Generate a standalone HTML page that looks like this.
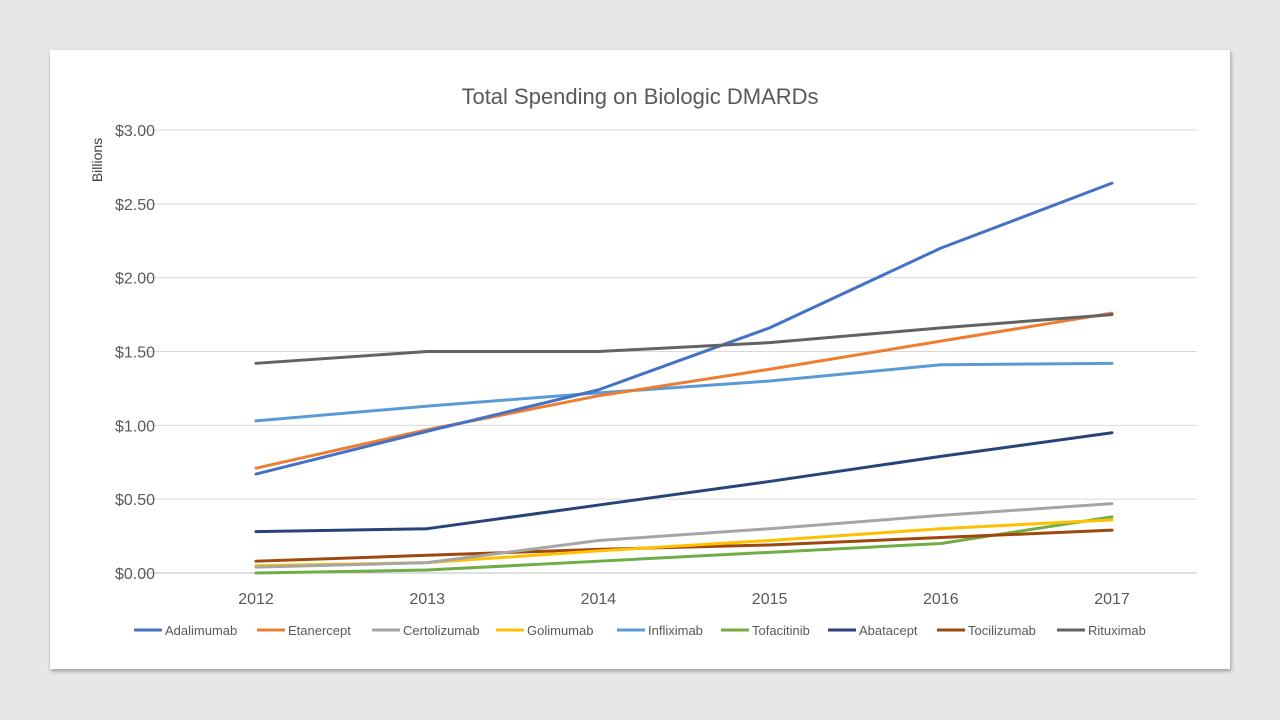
<!DOCTYPE html>
<html><head><meta charset="utf-8"><style>
body{margin:0;width:1280px;height:720px;background:#e8e7e7;font-family:"Liberation Sans",sans-serif;overflow:hidden}
#card{position:absolute;left:50px;top:50px;width:1180px;height:619px;background:#fff;box-shadow:1px 2px 4px rgba(0,0,0,0.35)}
svg{position:absolute;left:0;top:0}
</style></head><body>
<div id="card"></div>
<svg id="chart" width="1280" height="720">
<text x="640" y="104" text-anchor="middle" font-size="22" fill="#595959">Total Spending on Biologic DMARDs</text>
<text transform="translate(102,160) rotate(-90)" text-anchor="middle" font-size="14" fill="#404040">Billions</text>
</svg>
<script>
const years=["2012","2013","2014","2015","2016","2017"];
const yTicks=[0,0.5,1,1.5,2,2.5,3];
const tickLabels=["$0.00","$0.50","$1.00","$1.50","$2.00","$2.50","$3.00"];
const names=["Adalimumab","Etanercept","Certolizumab","Golimumab","Infliximab","Tofacitinib","Abatacept","Tocilizumab","Rituximab"];
const colors=["#4472C4","#ED7D31","#A5A5A5","#FFC000","#5B9BD5","#70AD47","#264478","#9E480E","#636363"];
const adalimumab=[0.67,0.96,1.24,1.66,2.20,2.64];
const etanercept=[0.71,0.97,1.20,1.38,1.57,1.76];
const certolizumab=[0.04,0.07,0.22,0.30,0.39,0.47];
const golimumab=[0.05,0.07,0.15,0.22,0.30,0.36];
const infliximab=[1.03,1.13,1.22,1.30,1.41,1.42];
const tofacitinib=[0.00,0.02,0.08,0.14,0.20,0.38];
const abatacept=[0.28,0.30,0.46,0.62,0.79,0.95];
const tocilizumab=[0.08,0.12,0.16,0.19,0.24,0.29];
const rituximab=[1.42,1.50,1.50,1.56,1.66,1.75];
const series=[adalimumab,etanercept,certolizumab,golimumab,infliximab,tofacitinib,abatacept,tocilizumab,rituximab];
const drawOrder=[5,7,3,2,6,4,1,0,8];
const legendX=[134,257,372,496,617,721,828,937,1057];
const NS="http://www.w3.org/2000/svg";
const svg=document.getElementById('chart');
const x=i=>256+171.2*i;
const y=v=>573-v*(443/3);
function mk(t,a){const e=document.createElementNS(NS,t);for(const k in a)e.setAttribute(k,a[k]);svg.appendChild(e);return e;}
yTicks.forEach((v,i)=>{
 const g=mk('line',{x1:142,x2:1197,y1:y(v),y2:y(v),stroke:i==0?'#bfbfbf':'#d9d9d9','stroke-width':1});
 
 
 const t=mk('text',{x:155,y:y(v)+6,'text-anchor':'end','font-size':16,fill:'#595959'});
 t.textContent=tickLabels[i];
 
 
});
years.forEach((yr,i)=>{
 const t=mk('text',{x:x(i),y:604,'text-anchor':'middle','font-size':16,fill:'#595959'});
 t.textContent=yr;
 
 
});
drawOrder.forEach(s=>{
 const p=mk('polyline',{points:series[s].map((v,i)=>x(i)+','+y(v)).join(' '),fill:'none',stroke:colors[s],'stroke-width':3,'stroke-linejoin':'round','stroke-linecap':'round'});
 
 
});
names.forEach((n,s)=>{
 const l=mk('line',{x1:legendX[s],x2:legendX[s]+28,y1:630,y2:630,stroke:colors[s],'stroke-width':3});
 
 
 const t=mk('text',{x:legendX[s]+31,y:635,'font-size':13,fill:'#595959'});
 t.textContent=n;
 
 
});
</script>
</body></html>
